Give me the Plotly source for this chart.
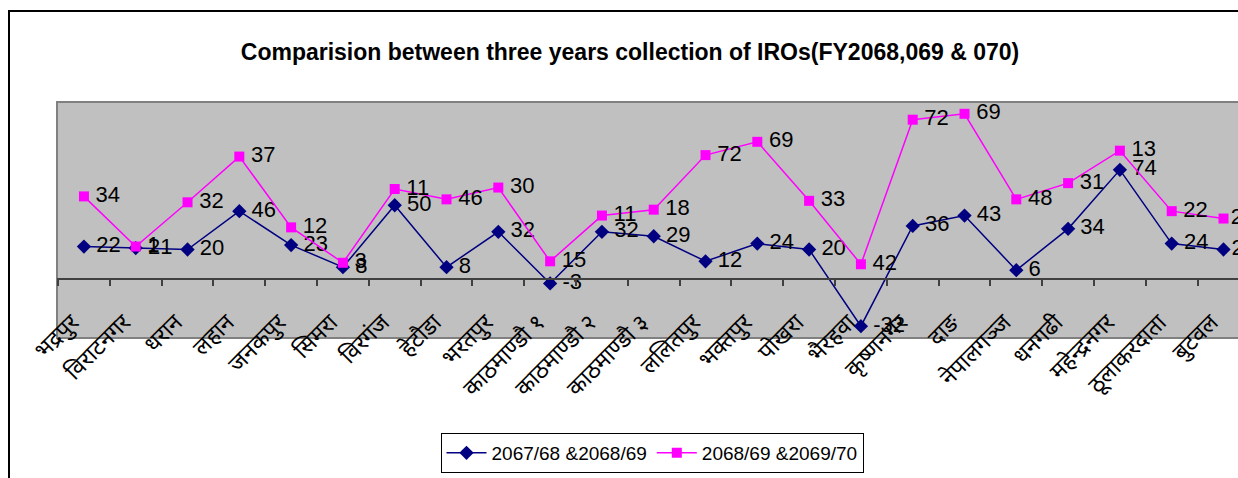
import plotly.graph_objects as go

categories = ["भद्रपुर", "विराटनगर", "धरान", "लहान", "जनकपुर", "सिमरा", "विरगंज", "हेटौडा",
              "भरतपुर", "काठमाण्डौ १", "काठमाण्डौ २", "काठमाण्डौ ३", "ललितपुर", "भक्तपुर",
              "पोखरा", "भैरहवा", "कृष्णनगर", "दाङ", "नेपालगञ्ज", "धनगढी", "महेन्द्रनगर",
              "ठूलाकरदाता", "बुटवल"]
series1_name = "2067/68 &2068/69"
series2_name = "2068/69 &2069/70"
series1 = [22, 21, 20, 46, 23, 8, 50, 8, 32, -3, 32, 29, 12, 24, 20, -32, 36, 43, 6, 34, 74, 24, 20]
series2 = [34, 1, 32, 37, 12, 3, 11, 46, 30, 15, 11, 18, 72, 69, 33, 42, 72, 69, 48, 31, 13, 22, 21]

title_text = "Comparision between three years collection of IROs(FY2068,069 & 070)"

NAVY = "#000080"
MAGENTA = "#FF00FF"
LABEL_FONT = dict(family="Liberation Sans, Arial", size=22, color="black")


def labels(values):
    out = ["\u2009" + str(v) for v in values]
    out[-1] = str(values[-1])
    return out


fig = go.Figure()
fig.add_trace(go.Scatter(
    x=categories, y=series1, name=series1_name, stackgroup="one", fill="none",
    mode="lines+markers+text", text=labels(series1), textposition="middle right",
    textfont=LABEL_FONT,
    line=dict(color=NAVY, width=1.5),
    marker=dict(symbol="diamond", size=11, color=NAVY),
    cliponaxis=False,
))
fig.add_trace(go.Scatter(
    x=categories, y=series2, name=series2_name, stackgroup="one", fill="none",
    mode="lines+markers+text", text=labels(series2), textposition="middle right",
    textfont=LABEL_FONT,
    line=dict(color=MAGENTA, width=1.5),
    marker=dict(symbol="square", size=10, color=MAGENTA),
    cliponaxis=False,
))

W, H = 1238, 478
L, R, T, B = 57, 0, 102, 140
plot_h = H - T - B

fig.update_layout(
    width=W, height=H,
    margin=dict(l=L, r=R, t=T, b=B),
    paper_bgcolor="white",
    plot_bgcolor="#C0C0C0",
    showlegend=True,
    title=dict(text="<b>" + title_text + "</b>", x=630 / W, xref="container", xanchor="center",
               y=1 - 52 / H, yref="container", yanchor="middle",
               font=dict(family="Liberation Sans, Arial", size=23, color="black")),
    legend=dict(orientation="h", x=(652 - L) / (W - L), xanchor="center",
                y=-(453 - (H - B)) / plot_h, yanchor="middle",
                bordercolor="black", borderwidth=1, bgcolor="white",
                font=dict(family="Liberation Sans, Arial", size=19, color="black"),
                itemwidth=40, tracegroupgap=0),
    xaxis=dict(
        type="category", range=[-0.52, 22.28],
        anchor="free", position=(H - B - 279) / plot_h,
        showline=True, linecolor="#404040", linewidth=1.5,
        ticks="outside", ticklen=6, tickcolor="#404040", tickwidth=1.5, tickson="boundaries",
        tickangle=-45, ticklabelstandoff=20, ticklabelshift=-12,
        tickfont=dict(family="Noto Sans Devanagari, Lohit Devanagari, Noto Sans, sans-serif", size=23, color="black"),
        showgrid=False, zeroline=False,
    ),
    yaxis=dict(range=[-40, 120], showticklabels=False, showgrid=False, zeroline=False,
               showline=False, ticks=""),
    shapes=[
        dict(type="rect", xref="x domain", yref="y domain", x0=0, x1=1.02, y0=0, y1=1,
             line=dict(color="#808080", width=2), fillcolor="rgba(0,0,0,0)", layer="below"),
        dict(type="rect", xref="paper", yref="paper",
             x0=(9 - L) / (W - L), x1=1.05,
             y0=-(H + 20 - (H - B)) / plot_h, y1=((H - B) - 11) / plot_h,
             line=dict(color="black", width=2), fillcolor="rgba(0,0,0,0)", layer="above"),
    ],
)

fig.write_html("out.html", config={"displayModeBar": False},
               post_script="document.body.style.margin='0';document.body.style.overflow='hidden';")
